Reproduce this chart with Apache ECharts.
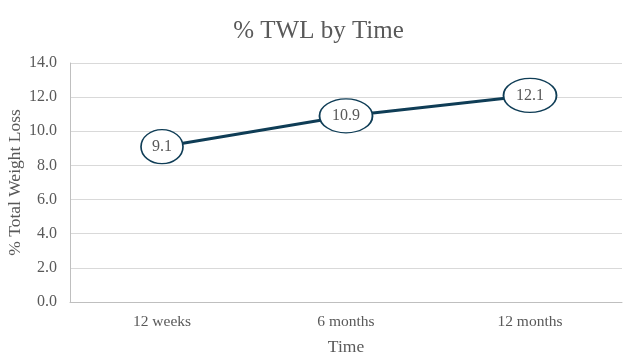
<!DOCTYPE html>
<html><head><meta charset="utf-8">
<script src="https://cdn.jsdelivr.net/npm/echarts@6/dist/echarts.min.js"></script>
<style>html,body{margin:0;padding:0;background:#fff}#c{width:637px;height:363px}</style>
</head><body><div id="c"></div>
<script>
const categories = ['12 weeks', '6 months', '12 months'];
const values = [9.1, 10.9, 12.1];
const yTicks = [0, 14, 2];

const chart = echarts.init(document.getElementById('c'));
const font = 'Liberation Serif';
chart.setOption({
  animation: false,
  title: { text: '% TWL by Time', left: 'center', top: 14,
    textStyle: { fontFamily: font, fontSize: 25, fontWeight: 'normal', color: '#595959' } },
  grid: { left: 70, right: 15, top: 63, bottom: 61, containLabel: false, outerBoundsMode: 'none' },
  xAxis: { type: 'category', data: categories, boundaryGap: true,
    name: 'Time', nameLocation: 'middle', nameGap: 36, nameMoveOverlap: false,
    nameTextStyle: { fontFamily: font, fontSize: 17.5, color: '#595959' },
    axisLine: { lineStyle: { color: '#bfbfbf' } }, axisTick: { show: false },
    axisLabel: { fontFamily: font, fontSize: 15.5, color: '#595959', margin: 12 } },
  yAxis: { type: 'value', min: yTicks[0], max: yTicks[1], interval: yTicks[2],
    name: '% Total Weight Loss', nameLocation: 'middle', nameGap: 46, nameMoveOverlap: false,
    nameTextStyle: { fontFamily: font, fontSize: 17.5, color: '#595959' },
    axisLine: { show: true, lineStyle: { color: '#bfbfbf' } }, axisTick: { show: false },
    axisLabel: { fontFamily: font, fontSize: 16, color: '#595959', margin: 13,
      formatter: v => v.toFixed(1) },
    splitLine: { lineStyle: { color: '#d9d9d9', width: 1 } } },
  series: [{
    type: 'line', data: values,
    lineStyle: { color: '#0f3d56', width: 3 },
    symbol: 'circle',
    symbolSize: (v) => (String(v).length > 3 ? [53, 34] : [42, 34]),
    itemStyle: { color: '#ffffff', borderColor: '#0f3d56', borderWidth: 1.5 },
    label: { show: true, position: 'inside', fontFamily: font, fontSize: 16, color: '#595959',
      formatter: p => p.value.toFixed(1) },
    z: 3
  }]
});
</script></body></html>
